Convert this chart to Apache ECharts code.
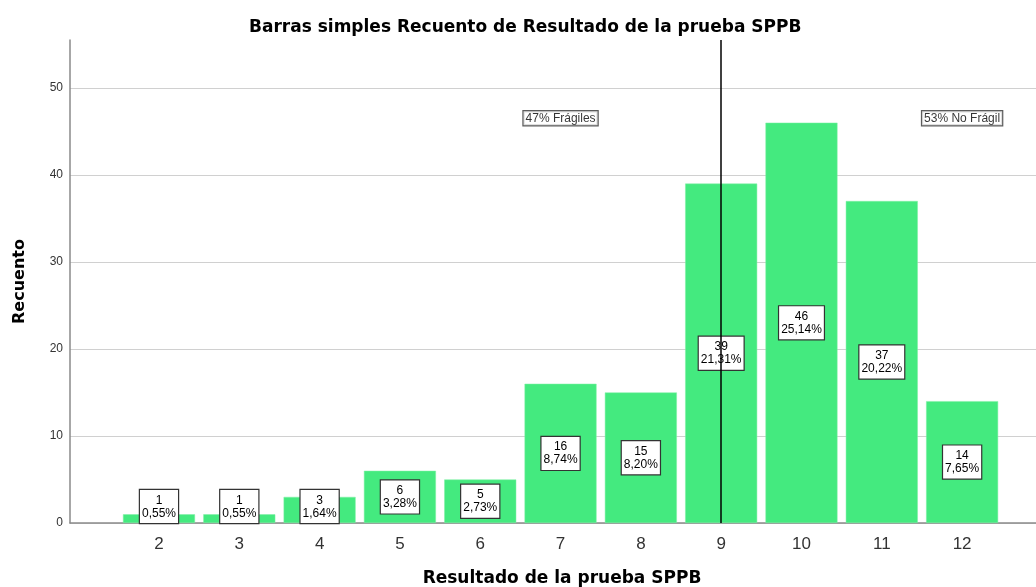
<!DOCTYPE html>
<html>
<head>
<meta charset="utf-8">
<script src="https://cdn.jsdelivr.net/npm/echarts@6/dist/echarts.min.js"></script>
<style>
html,body{margin:0;padding:0;background:#fff;}
#chart{width:1036px;height:587px;}
</style>
</head>
<body>
<div id="chart"></div>
<script>
const categories = [2, 3, 4, 5, 6, 7, 8, 9, 10, 11, 12];
const counts = [1, 1, 3, 6, 5, 16, 15, 39, 46, 37, 14];
const percents = ['0,55%', '0,55%', '1,64%', '3,28%', '2,73%', '8,74%', '8,20%', '21,31%', '25,14%', '20,22%', '7,65%'];
const yTickValues = [0, 10, 20, 30, 40, 50];
const refLineX = 9;
const noteX = [7, 12];
const noteY = [46.5, 46.5];
const noteText = ['47% Frágiles', '53% No Frágil'];

const FONT = 'Liberation Sans, Arial, Helvetica, sans-serif';
const BOLDFONT = 'DejaVu Sans, Verdana, sans-serif';
const chart = echarts.init(document.getElementById('chart'), null, {renderer: 'canvas'});

const barData = categories.map((c, i) => ({
  value: [c, counts[i]],
  label: counts[i] < 4 ? {position: 'insideBottom', distance: 0} : {position: 'inside'}
}));

chart.setOption({
  animation: false,
  backgroundColor: '#ffffff',
  title: {
    text: 'Barras simples Recuento de Resultado de la prueba SPPB',
    left: 244, top: 14,
    textStyle: {fontFamily: BOLDFONT, fontSize: 17, fontWeight: 'bold', color: '#000'}
  },
  grid: {left: 70, right: 0, top: 40, bottom: 64, containLabel: false, outerBoundsMode: 'none'},
  xAxis: {
    type: 'value',
    min: 0.892, max: 12.92,
    name: 'Resultado de la prueba SPPB',
    nameLocation: 'middle', nameGap: 47,
    nameTextStyle: {fontFamily: BOLDFONT, fontSize: 17, fontWeight: 'bold', color: '#000', padding: [0, 0, 0, 18]},
    axisLine: {show: true, onZero: false, lineStyle: {color: '#8a8a8a', width: 1.5}},
    axisTick: {show: false, customValues: categories},
    axisLabel: {customValues: categories, fontFamily: FONT, fontSize: 17, color: '#333', margin: 13},
    splitLine: {show: false}
  },
  yAxis: {
    type: 'value',
    min: 0, max: 55.5,
    name: 'Recuento',
    nameLocation: 'middle', nameGap: 42,
    nameTextStyle: {fontFamily: BOLDFONT, fontSize: 16, fontWeight: 'bold', color: '#000'},
    axisLine: {show: true, lineStyle: {color: '#8a8a8a', width: 1.5}},
    axisTick: {show: false, customValues: yTickValues},
    axisLabel: {customValues: yTickValues, fontFamily: FONT, fontSize: 12, color: '#333', margin: 7,
      formatter: v => (yTickValues.indexOf(v) >= 0 ? String(v) : '')},
    splitLine: {show: true, lineStyle: {color: '#d0d0d0', width: 1}}
  },
  series: [
    {
      type: 'bar',
      data: barData,
      barWidth: 72,
      itemStyle: {color: '#44EA7F', borderColor: '#7ef0a4', borderWidth: 0.5},
      label: {
        show: true,
        formatter: p => counts[p.dataIndex] + '\n' + percents[p.dataIndex],
        fontFamily: FONT, fontSize: 12, lineHeight: 13, color: '#000',
        backgroundColor: '#fff', borderColor: '#333', borderWidth: 1.2,
        padding: [4, 2, 3, 2], align: 'center'
      },
      z: 2
    },
    {
      type: 'scatter',
      data: noteX.map((x, i) => [x, noteY[i]]),
      symbolSize: 0,
      label: {
        show: true, position: 'inside',
        formatter: p => noteText[p.dataIndex],
        fontFamily: FONT, fontSize: 12, color: '#000',
        backgroundColor: '#fff', borderColor: '#333', borderWidth: 1.2,
        padding: [1, 2, 1, 2]
      },
      markLine: {
        silent: true, symbol: 'none',
        label: {show: false},
        lineStyle: {color: '#000', width: 1.5, type: 'solid'},
        data: [{xAxis: refLineX}]
      },
      z: 10
    }
  ]
});
</script>
</body>
</html>
